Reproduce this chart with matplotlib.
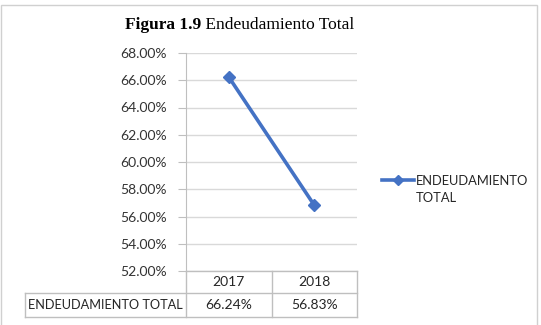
import numpy as np
import matplotlib.pyplot as plt
from matplotlib.lines import Line2D
from matplotlib.patches import Rectangle

years = ["2017", "2018"]
endeudamiento = [66.24, 56.83]
serie = "ENDEUDAMIENTO TOTAL"
yticks = [52, 54, 56, 58, 60, 62, 64, 66, 68]

azul = "#4472C4"
gris = "#BFBFBF"
plt.rcParams['font.family'] = ['Lato', 'DejaVu Sans']

W, H = 541, 325
fig = plt.figure(figsize=(W / 100, H / 100), dpi=100)
ax = fig.add_axes([186 / W, 1 - 271 / H, (357 - 186) / W, (271 - 53) / H])

x = np.arange(len(years))
ax.plot(x, endeudamiento, color=azul, lw=2.6, marker="D", ms=6, label=serie)
ax.set_xlim(-0.5, len(years) - 0.5)
ax.set_ylim(52, 68)
ax.set_yticks(yticks)
ax.set_yticklabels([f"{v:.2f}%" for v in yticks], fontsize=10, color="#333333")
ax.set_xticks([])
ax.grid(axis="y", color="#D9D9D9", lw=1)
for s in ["top", "right", "bottom"]:
    ax.spines[s].set_visible(False)
ax.spines["left"].set_color(gris)
ax.tick_params(axis="y", length=6, color=gris, pad=8)

# tabla de datos debajo del grafico
r1, r2 = -0.101, -0.211
xl = (25 - 186) / 171
tr = ax.get_xaxis_transform()
tra = ax.transAxes
kw = dict(color=gris, lw=1, clip_on=False)
ax.add_line(Line2D([0, 1], [0, 0], transform=tra, **kw))
ax.add_line(Line2D([xl, 1], [r1, r1], transform=tra, **kw))
ax.add_line(Line2D([xl, 1], [r2, r2], transform=tra, **kw))
ax.add_line(Line2D([xl, xl], [r1, r2], transform=tra, **kw))
for b in np.arange(len(years) + 1) - 0.5:
    ax.add_line(Line2D([b, b], [0, r2], transform=tr, **kw))
for i, (yr, v) in enumerate(zip(years, endeudamiento)):
    ax.text(i, r1 / 2, yr, transform=tr, ha="center", va="center", fontsize=10, color="#262626")
    ax.text(i, (r1 + r2) / 2, f"{v:.2f}%", transform=tr, ha="center", va="center", fontsize=10, color="#262626")
ax.text(xl / 2, (r1 + r2) / 2, serie, transform=tra, ha="center", va="center", fontsize=9.2, color="#262626")

# leyenda (segunda linea aparte para que el marcador quede en la primera)
palabras = serie.split()
leg = ax.legend(handles=[Line2D([], [], color=azul, lw=2.6, marker="D", ms=5)],
                labels=[palabras[0]], loc="upper left",
                bbox_to_anchor=(370 / W, 1 - 163 / H), bbox_transform=fig.transFigure,
                frameon=False, fontsize=9.3, handlelength=2.5, handletextpad=0.15,
                labelcolor="#262626")
fig.canvas.draw()
bb = leg.get_texts()[0].get_window_extent().transformed(fig.transFigure.inverted())
fig.text(bb.x0, bb.y0 - 17 / H, palabras[1], fontsize=9.3, color="#262626", va="bottom")

# titulo
t1 = fig.text(125 / W, 1 - 25 / H, "Figura 1.9", family="Liberation Serif",
              weight="bold", fontsize=12.5, va="center")
ax.annotate(" Endeudamiento Total", xy=(1, 0), xycoords=t1, va="bottom",
            family="Liberation Serif", fontsize=12.5, annotation_clip=False)

fig.patches.append(Rectangle((1 / W, -0.01), 536 / W, 1 - 2 / H, transform=fig.transFigure,
                             fill=False, ec="#D0D0D0", lw=1))

fig.savefig("out.png", dpi=100)
